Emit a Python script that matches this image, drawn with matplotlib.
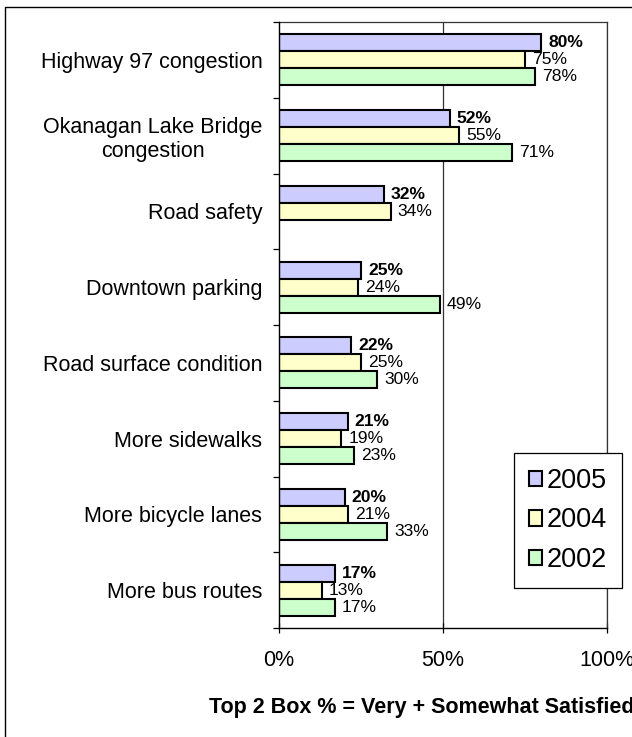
import numpy as np
import matplotlib
matplotlib.use("Agg")
import matplotlib.pyplot as plt
from matplotlib.patches import Patch
from matplotlib.lines import Line2D

plt.rcParams['font.family'] = ['Liberation Sans', 'DejaVu Sans']

categories = ["Highway 97 congestion", "Okanagan Lake Bridge\ncongestion", "Road safety",
              "Downtown parking", "Road surface condition", "More sidewalks",
              "More bicycle lanes", "More bus routes"]
series_names = ["2005", "2004", "2002"]
vals_2005 = [80, 52, 32, 25, 22, 21, 20, 17]
vals_2004 = [75, 55, 34, 24, 25, 19, 21, 13]
vals_2002 = [78, 71, None, 49, 30, 23, 33, 17]
colors = ["#CCCCFF", "#FFFFCC", "#CCFFCC"]
xticks = [0, 50, 100]
xtick_labels = ["0%", "50%", "100%"]
footer = "Top 2 Box % = Very + Somewhat Satisfied"

W, H = 632, 737
fig = plt.figure(figsize=(W / 100, H / 100), dpi=100)
ax = fig.add_axes([279 / W, 1 - 628 / H, (607 - 279) / W, (628 - 22) / H])

bar_h = 0.225
offsets = [-bar_h, 0, bar_h]
y = np.arange(len(categories))
all_series = [vals_2005, vals_2004, vals_2002]
for k, (vals, col, off) in enumerate(zip(all_series, colors, offsets)):
    for i, v in enumerate(vals):
        if v is None:
            continue
        ax.barh(y[i] + off, v, height=bar_h, color=col, edgecolor='black',
                linewidth=1.5, zorder=3)
        ax.annotate(f"{v}%", xy=(v, y[i] + off), xytext=(5, 0),
                    textcoords='offset points', ha='left', va='center',
                    fontsize=12.6, fontweight='bold' if k == 0 else 'normal',
                    color='black', zorder=4)

ax.set_xlim(0, 100)
ax.set_ylim(len(categories) - 0.5, -0.5)

ax.set_yticks(y)
ax.set_yticklabels(categories, fontsize=15.5, ha='center', multialignment='center')
ax.tick_params(axis='y', which='major', length=0, pad=0)
# position category labels centered around x ~ 153px
for lab in ax.get_yticklabels():
    lab.set_horizontalalignment('right')
ax.tick_params(axis='y', which='major', pad=12)
ax.set_yticks(np.arange(-0.5, len(categories), 1), minor=True)
ax.tick_params(axis='y', which='minor', length=4.5, direction='out', width=0.9, color='black')

ax.set_xticks(xticks)
ax.set_xticklabels(xtick_labels, fontsize=15.5)
ax.tick_params(axis='x', which='major', direction='inout', length=7, width=0.9, pad=12)

for x in [50, 100]:
    ax.axvline(x, color='#333333', linewidth=0.9, zorder=1)

for s in ['left', 'bottom']:
    ax.spines[s].set_color('black')
    ax.spines[s].set_linewidth(1.0)
    ax.spines[s].set_zorder(5)
for s in ['top', 'right']:
    ax.spines[s].set_color('#333333')
    ax.spines[s].set_linewidth(0.9)

handles = [Patch(facecolor=c, edgecolor='black', linewidth=1.5) for c in colors]
leg = ax.legend(handles, series_names, loc='upper left',
                bbox_to_anchor=(514 / W, 1 - 453 / H), bbox_transform=fig.transFigure,
                fontsize=19.5, frameon=True, fancybox=False, framealpha=1,
                edgecolor='black', handlelength=0.5, handleheight=0.5,
                handletextpad=0.15, labelspacing=0.5, borderpad=0.55,
                borderaxespad=0)
leg.get_frame().set_linewidth(0.9)
leg.set_zorder(10)

fig.text(209 / W, 1 - 707 / H, footer, ha='left', va='center',
         fontsize=15.5, fontweight='bold')

fig.add_artist(Line2D([5 / W, 5 / W, 1.0], [0.0, 1 - 7 / H, 1 - 7 / H],
                      transform=fig.transFigure, color='black', linewidth=1.0))

fig.savefig("out.png", dpi=100)
